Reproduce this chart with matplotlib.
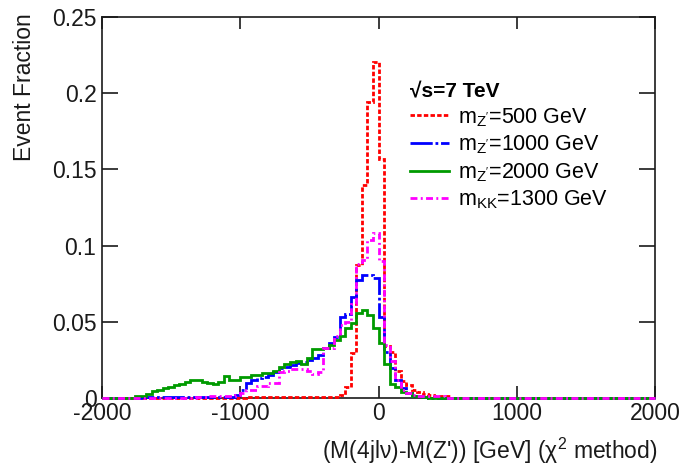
import numpy as np
import matplotlib
matplotlib.use("Agg")
import matplotlib.pyplot as plt

plt.rcParams['font.family'] = ['Liberation Sans', 'DejaVu Sans']
plt.rcParams['mathtext.fontset'] = 'custom'
plt.rcParams['mathtext.rm'] = 'Liberation Sans'
plt.rcParams['mathtext.it'] = 'Liberation Sans:italic'

# histogram binning: 100 bins of 40 GeV from -2000 to 2000
x_min, x_max, bin_w = -2000, 2000, 40

# mZ' = 500 GeV (first bin starts at -960 GeV)
red_start = -960
red_vals = [0.0008, 0.0008, 0.0008, 0.0008, 0.0008, 0.0008, 0.0008, 0.0008, 0.0008,
            0.0008, 0.0008, 0.0008, 0.0008, 0.0008, 0.0008, 0.0008, 0.0008,
            0.002, 0.0074, 0.0295, 0.087, 0.14, 0.194, 0.2205, 0.157, 0.034, 0.030,
            0.018, 0.011, 0.0085, 0.005, 0.004, 0.0025, 0.002, 0.0015, 0.0015, 0.001]

# mZ' = 1000 GeV
blue_start = -1720
blue_vals = [0.0004, 0.0004, 0.0004, 0.0004, 0.0004, 0.0004, 0.0004, 0.0004, 0.0004,
             0.0004, 0.0004, 0.0004, 0.0004, 0.0004, 0.0004, 0.0004, 0.0004,
             0.002, 0.005, 0.0096, 0.0118, 0.013, 0.014, 0.015, 0.0173, 0.0195, 0.0205,
             0.0216, 0.0227, 0.0238, 0.025, 0.026, 0.028, 0.0326, 0.036, 0.040, 0.053,
             0.055, 0.066, 0.0775, 0.0807, 0.081, 0.079, 0.053, 0.030, 0.020, 0.012,
             0.0066, 0.003, 0.0015, 0.001, 0.0005]

# mZ' = 2000 GeV
green_start = -1760
green_vals = [0.001, 0.0015, 0.0024, 0.0046, 0.0055, 0.0063, 0.0074, 0.0085, 0.0095,
              0.0103, 0.0116, 0.0118, 0.0108, 0.0098, 0.009, 0.0103, 0.0146, 0.0118,
              0.0118, 0.0136, 0.0136, 0.0151, 0.0151, 0.0166, 0.0166, 0.018, 0.0205,
              0.0223, 0.0235, 0.0245, 0.022, 0.026, 0.032, 0.032, 0.033, 0.035, 0.038,
              0.041, 0.0457, 0.049, 0.0556, 0.0577, 0.0545, 0.046, 0.036, 0.022, 0.0095,
              0.007, 0.004, 0.003, 0.0015, 0.001, 0.0005]

# mKK = 1300 GeV
mag_start = -1320
mag_vals = [0.0008, 0.0008, 0.001, 0.001, 0.0012, 0.0015, 0.0015, 0.002, 0.003, 0.005,
            0.005, 0.008, 0.008, 0.0096, 0.0096, 0.0173, 0.018, 0.019, 0.019, 0.019,
            0.018, 0.016, 0.017, 0.0326, 0.0326, 0.041, 0.048, 0.050, 0.062, 0.088,
            0.0906, 0.1037, 0.1085, 0.09, 0.035, 0.024, 0.0118, 0.005, 0.003, 0.002,
            0.0015, 0.0015, 0.0015, 0.0015, 0.001]

labels = [r"m$_{\mathrm{Z'}}$=500 GeV", r"m$_{\mathrm{Z'}}$=1000 GeV",
          r"m$_{\mathrm{Z'}}$=2000 GeV", r"m$_{\mathrm{KK}}$=1300 GeV"]

x_ticks = [-2000, -1000, 0, 1000, 2000]
y_ticks = [0, 0.05, 0.1, 0.15, 0.2, 0.25]
y_tick_labels = ["0", "0.05", "0.1", "0.15", "0.2", "0.25"]

edges = np.arange(x_min, x_max + bin_w, bin_w)


def full_hist(start, vals):
    # put the non-empty bins into the full 100-bin range
    h = np.zeros(len(edges) - 1)
    i0 = (start - x_min) // bin_w
    h[i0:i0 + len(vals)] = vals
    return h


fig = plt.figure(figsize=(6.83, 4.68), dpi=100)
ax = fig.add_axes([102 / 683, 1 - 398 / 468, 553 / 683, 381 / 468])

styles = [
    (red_start, red_vals, '#ff0000', (0, (1.6, 0.8))),
    (blue_start, blue_vals, '#0000ff', (0, (8, 1, 1, 1))),
    (green_start, green_vals, '#009a00', '-'),
    (mag_start, mag_vals, '#ff00ff', (0, (2.5, 1.2, 0.7, 1.2))),
]
for (start, vals, col, ls), lab in zip(styles, labels):
    ax.stairs(full_hist(start, vals), edges, color=col, linestyle=ls, lw=2,
              label=lab, zorder=3, clip_on=False, baseline=None)

ax.set_xlim(x_min, x_max)
ax.set_ylim(0, 0.25)
ax.set_xticks(x_ticks)
ax.set_xticklabels([str(t) for t in x_ticks])
ax.set_yticks(y_ticks)
ax.set_yticklabels(y_tick_labels)
ax.tick_params(axis='both', direction='in', top=True, right=True, width=1.2,
               labelsize=16.5, colors='#1a1a1a')
ax.tick_params(axis='x', length=8.6, pad=3)
ax.tick_params(axis='y', length=11.5, pad=4)
for s in ax.spines.values():
    s.set_linewidth(1.2)
    s.set_color('#1a1a1a')

fig.text(25 / 683, 1 - 13 / 468, 'Event Fraction', rotation=90, ha='center', va='top',
         fontsize=16.5, color='#1a1a1a')
fig.text(657 / 683, 1 - 451 / 468, "(M(4jl\u03bd)-M(Z')) [GeV] (\u03c7$^{2}$ method)",
         ha='right', va='center', fontsize=16.5, color='#1a1a1a')

leg = ax.legend(loc='upper left', bbox_to_anchor=(410 / 683, 1 - 82 / 468),
                bbox_transform=fig.transFigure, frameon=False, fontsize=15.5,
                title='\u221as=7 TeV', title_fontproperties={'weight': 'bold', 'size': 15},
                alignment='left', handlelength=1.8, handletextpad=0.45,
                labelspacing=0.23, borderpad=0, borderaxespad=0)

fig.savefig('out.png', dpi=100)
